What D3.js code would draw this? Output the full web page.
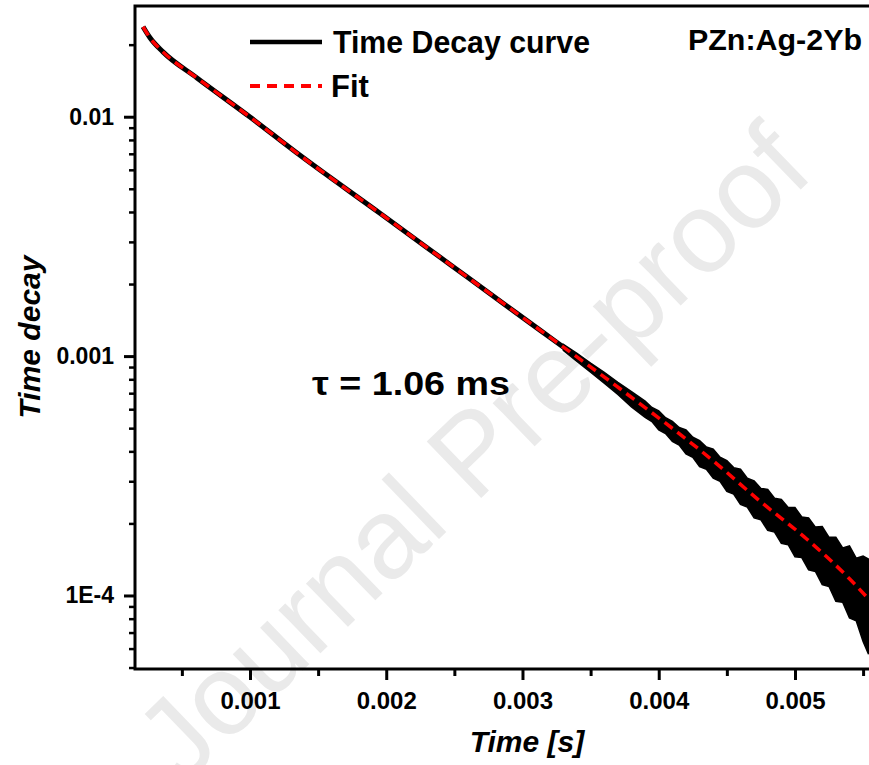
<!DOCTYPE html>
<html><head><meta charset="utf-8">
<script src="https://cdn.jsdelivr.net/npm/d3@7"></script>
<style>
html,body{margin:0;padding:0;background:#fff;}
svg{display:block;font-family:"Liberation Sans",Arial,sans-serif;}
</style></head>
<body>
<svg id="chart" width="869" height="765"></svg>
<script>
// ---- data ----
const timeS  = [0.000215,0.000266,0.000361,0.000611,0.001,0.001345,0.001954,0.002468,0.002982,0.003716,0.004428,0.004743,0.005088,0.005404,0.005536];
const decayV = [0.02376,0.02137,0.01866,0.01452,0.00997,0.00705,0.003951,0.002415,0.001476,0.0007303,0.000354,0.0002478,0.0001718,0.0001168,0.0000972];
const fitV   = [0.02376,0.02137,0.01866,0.01452,0.00997,0.00705,0.003951,0.002415,0.001476,0.0007303,0.000354,0.0002478,0.0001718,0.0001168,0.0000972];
// noise envelope of the measured decay at long times
const bandT  = [0.0033,0.0034,0.0035,0.0036,0.0037,0.0038,0.0039,0.00395,0.0040,0.00405,0.0041,0.00415,0.0042,0.00425,0.0043,0.00435,0.0044,0.00445,0.0045,0.00455,0.0046,0.00465,0.0047,0.00475,0.0048,0.00485,0.0049,0.00495,0.0050,0.00505,0.0051,0.00515,0.0052,0.00525,0.0053,0.00535,0.0054,0.00545,0.0055,0.00554];
const bandHi = [1.119e-3,1.027e-3,9.34e-4,8.56e-4,7.77e-4,7.10e-4,6.48e-4,6.10e-4,5.90e-4,5.53e-4,5.34e-4,5.03e-4,4.92e-4,4.58e-4,4.44e-4,4.17e-4,4.09e-4,3.78e-4,3.66e-4,3.42e-4,3.37e-4,3.09e-4,3.01e-4,2.80e-4,2.77e-4,2.55e-4,2.52e-4,2.33e-4,2.33e-4,2.13e-4,2.11e-4,1.93e-4,1.94e-4,1.75e-4,1.75e-4,1.58e-4,1.61e-4,1.43e-4,1.46e-4,1.42e-4];
const bandLo = [1.057e-3,9.51e-4,8.56e-4,7.70e-4,6.92e-4,6.14e-4,5.55e-4,5.33e-4,4.92e-4,4.75e-4,4.40e-4,4.25e-4,3.90e-4,3.78e-4,3.45e-4,3.37e-4,3.09e-4,3.00e-4,2.72e-4,2.65e-4,2.40e-4,2.34e-4,2.11e-4,2.07e-4,1.87e-4,1.84e-4,1.65e-4,1.63e-4,1.45e-4,1.44e-4,1.28e-4,1.26e-4,1.11e-4,1.09e-4,9.46e-5,9.37e-5,8.06e-5,7.83e-5,6.43e-5,5.68e-5];

const xTicks = [0.001,0.002,0.003,0.004,0.005];
const xTickLabels = ["0.001","0.002","0.003","0.004","0.005"];
const xMinor = [0.0005,0.0015,0.0025,0.0035,0.0045,0.0055];
const yTicks = [0.01,0.001,0.0001];
const yTickLabels = ["0.01","0.001","1E-4"];
const yMinor = [0.02,0.009,0.008,0.007,0.006,0.005,0.004,0.003,0.002,0.0009,0.0008,0.0007,0.0006,0.0005,0.0004,0.0003,0.0002,0.00009,0.00008,0.00007,0.00006,0.00005];
const seriesNames = ["Time Decay curve","Fit"];
const sampleLabel = "PZn:Ag-2Yb";
const tauLabel = "\u03C4 = 1.06 ms";
const xTitle = "Time [s]";
const yTitle = "Time decay";
const watermark = "Journal Pre-proof";

// ---- layout ----
const L = 135, R = 871, T = 6, B = 669;
const svg = d3.select("#chart");
const x = d3.scaleLinear().domain([0.000156, 0.005558]).range([L, R]);
const y = d3.scaleLog().domain([4.93e-5, 0.02901]).range([B, T]);

// watermark
svg.append("text")
  .attr("transform", "translate(472,452) rotate(-44)")
  .attr("text-anchor", "middle")
  .attr("dominant-baseline", "central")
  .attr("font-size", 114)
  .attr("fill", "#eaeaea")
  .text(watermark);

svg.append("defs").append("clipPath").attr("id","clip")
  .append("rect").attr("x",L).attr("y",T).attr("width",R-L).attr("height",B-T);
const plot = svg.append("g").attr("clip-path","url(#clip)");

// noisy band
const bandData = bandT.map((t,i)=>({t, hi:bandHi[i], lo:bandLo[i]}));
plot.append("path").datum(bandData)
  .attr("d", d3.area().x(d=>x(d.t)).y0(d=>y(d.lo)).y1(d=>y(d.hi)))
  .attr("fill","#000").attr("stroke","#000").attr("stroke-width",1.5);

const decay = timeS.map((t,i)=>({t, v:decayV[i]}));
const fit = timeS.map((t,i)=>({t, v:fitV[i]}));
const line = d3.line().x(d=>x(d.t)).y(d=>y(d.v)).curve(d3.curveMonotoneX);
plot.append("path").datum(decay).attr("d", line)
  .attr("fill","none").attr("stroke","#000").attr("stroke-width",5);
plot.append("path").datum(fit).attr("d", line)
  .attr("fill","none").attr("stroke","#ff0000").attr("stroke-width",3.5)
  .attr("stroke-dasharray","10,6");

// axes
const fontAxis = g => g.selectAll("text").attr("font-weight","bold").attr("fill","#000");
const gx = svg.append("g").attr("transform",`translate(0,${B})`)
  .call(d3.axisBottom(x).tickValues(xTicks).tickSize(11).tickPadding(12)
    .tickFormat((d,i)=>xTickLabels[i]));
gx.select(".domain").remove();
gx.selectAll("line").attr("stroke","#000").attr("stroke-width",3);
gx.selectAll("text").attr("font-size",24).attr("font-family","Liberation Sans, Arial, sans-serif");
fontAxis(gx);
const gxm = svg.append("g").attr("transform",`translate(0,${B})`)
  .call(d3.axisBottom(x).tickValues(xMinor).tickSize(7).tickFormat(""));
gxm.select(".domain").remove();
gxm.selectAll("line").attr("stroke","#000").attr("stroke-width",3);

const gy = svg.append("g").attr("transform",`translate(${L},0)`)
  .call(d3.axisLeft(y).tickValues(yTicks).tickSize(11).tickPadding(10)
    .tickFormat((d,i)=>yTickLabels[i]));
gy.select(".domain").remove();
gy.selectAll("line").attr("stroke","#000").attr("stroke-width",3);
gy.selectAll("text").attr("font-size",23).attr("font-family","Liberation Sans, Arial, sans-serif");
fontAxis(gy);
const gym = svg.append("g").attr("transform",`translate(${L},0)`)
  .call(d3.axisLeft(y).tickValues(yMinor).tickSize(6).tickFormat(""));
gym.select(".domain").remove();
gym.selectAll("line").attr("stroke","#000").attr("stroke-width",2.5);

// frame
svg.append("rect").attr("x",L).attr("y",T).attr("width",R-L).attr("height",B-T)
  .attr("fill","none").attr("stroke","#000").attr("stroke-width",3);

// titles
svg.append("text").attr("x",527).attr("y",752).attr("text-anchor","middle")
  .attr("font-size",30).attr("font-weight","bold").attr("font-style","italic")
  .text(xTitle);
svg.append("text").attr("transform","translate(40,337) rotate(-90)").attr("text-anchor","middle")
  .attr("font-size",30).attr("font-weight","bold").attr("font-style","italic")
  .text(yTitle);

// legend
const lx0 = 250, lx1 = 322;
svg.append("line").attr("x1",lx0).attr("x2",lx1).attr("y1",42).attr("y2",42)
  .attr("stroke","#000").attr("stroke-width",4.5);
svg.append("line").attr("x1",lx0).attr("x2",lx1).attr("y1",86).attr("y2",86)
  .attr("stroke","#ff0000").attr("stroke-width",4).attr("stroke-dasharray","10,7");
svg.append("text").attr("x",333).attr("y",53).attr("font-size",31).attr("font-weight","bold")
  .attr("textLength",257).attr("lengthAdjust","spacingAndGlyphs").text(seriesNames[0]);
svg.append("text").attr("x",331).attr("y",97).attr("font-size",31).attr("font-weight","bold")
  .text(seriesNames[1]);
svg.append("text").attr("x",688).attr("y",50).attr("font-size",30).attr("font-weight","bold")
  .attr("textLength",174).attr("lengthAdjust","spacingAndGlyphs").text(sampleLabel);
svg.append("text").attr("x",312).attr("y",395).attr("font-size",33).attr("font-weight","bold")
  .attr("textLength",198).attr("lengthAdjust","spacingAndGlyphs").text(tauLabel);
</script>
</body></html>
